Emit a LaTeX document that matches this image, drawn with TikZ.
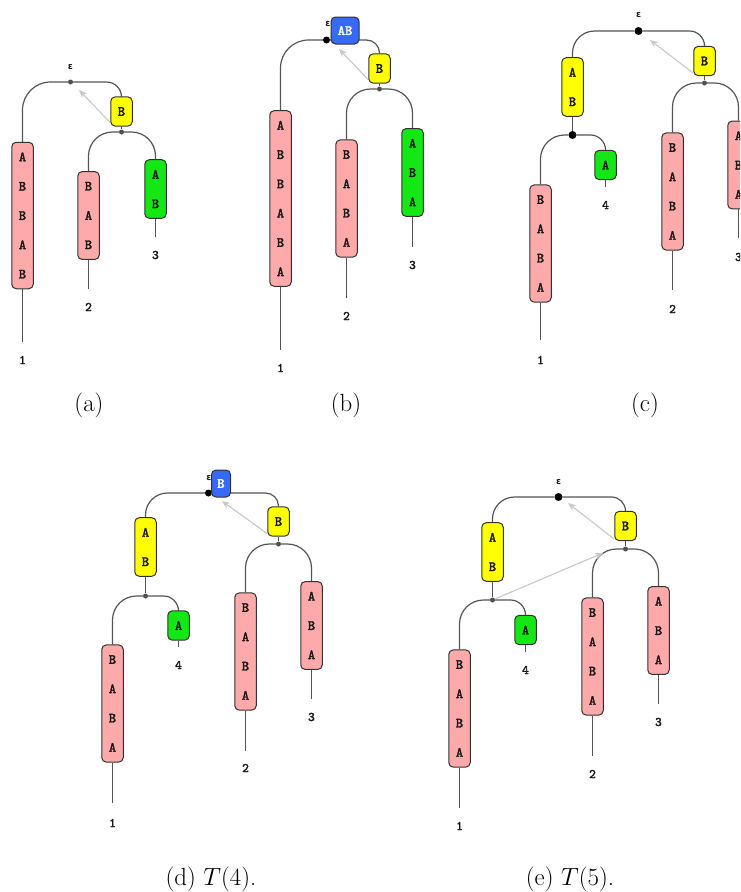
\documentclass[tikz,border=0pt]{standalone}
\usepackage{fontspec}
\newfontfamily\treefont{lmmono10-regular.otf}[FakeBold=2.2]
\newfontfamily\epsfont{DejaVu Sans}
\usetikzlibrary{arrows.meta,backgrounds}
\definecolor{pinkc}{RGB}{255,170,170}
\definecolor{greenc}{RGB}{20,232,20}
\definecolor{yellowc}{RGB}{255,255,0}
\definecolor{bluec}{RGB}{55,105,250}
\definecolor{boxline}{RGB}{50,50,50}
\definecolor{edgec}{RGB}{85,85,85}
\definecolor{dotc}{RGB}{80,80,80}
\definecolor{linkc}{RGB}{200,200,200}
\definecolor{letc}{RGB}{25,25,25}
\begin{document}
\begin{tikzpicture}[x=1pt,y=-1pt,
  tbox/.style={draw=boxline,line width=1pt,rounded corners=4.5pt,inner sep=0pt,minimum width=21.5pt,align=center,text=letc,font=\treefont\fontsize{14}{29.3}\selectfont},
  pinkb/.style={tbox,fill=pinkc,minimum height=29.3pt*#1},
  greenb/.style={tbox,fill=greenc,minimum height=29.3pt*#1},
  yellowb/.style={tbox,fill=yellowc,minimum height=29.3pt*#1},
  blueb/.style={tbox,fill=bluec,text=white,minimum height=27pt},
  jdot/.style={circle,fill=dotc,inner sep=0pt,minimum size=5pt},
  bdot/.style={circle,fill=black,inner sep=0pt,minimum size=8pt},
  epsl/.style={font=\epsfont\bfseries\fontsize{9}{11}\selectfont,inner sep=0pt,text=letc},
  lbl/.style={font=\treefont\fontsize{13}{15}\selectfont,inner sep=0pt,text=letc},
  edge/.style={draw=edgec,line width=1.2pt,rounded corners=#1},
  edge/.default=24pt,
  tail/.style={draw=edgec,line width=1.1pt},
  slink/.style={draw=linkc,line width=1.1pt,-{Stealth[length=8pt,width=6.5pt]}},
  captxt/.style={font=\Huge,inner sep=0pt}
]
\useasboundingbox (0,0) rectangle (740,892);
\begin{scope}
\clip (0,0) rectangle (740,892);
% ---------- (a)
\node[epsl] (a_eps) at (70.5,67) {ε};
\node[jdot] (a_r) at (70.5,82) {};
\node[pinkb=5] (a1) at (22.5,215.5) {A\\B\\B\\A\\B};
\coordinate (a1_t) at (22.5,342);
\node[lbl] (a_l1) at (22.5,360) {1};
\node[yellowb=1] (aY) at (121.5,111.5) {B};
\node[jdot] (a_j) at (121.5,132) {};
\node[pinkb=3] (a2) at (88.5,215.5) {B\\A\\B};
\coordinate (a2_t) at (88.5,289);
\node[lbl] (a_l2) at (88.5,307) {2};
\node[greenb=2] (a3) at (155.5,189) {A\\B};
\coordinate (a3_t) at (155.5,237);
\node[lbl] (a_l3) at (155.5,255) {3};
\coordinate (a_s) at (79,90);
% ---------- (b)
\node[epsl] (b_eps) at (328,24) {ε};
\node[bdot,minimum size=7pt] (b_r) at (326.5,40) {};
\node[blueb,minimum width=28pt] (bBl) at (345,30.5) {AB};
\node[pinkb=6] (b1) at (280.5,198.5) {A\\B\\B\\A\\B\\A};
\coordinate (b1_t) at (280.5,350);
\node[lbl] (b_l1) at (280.5,368) {1};
\node[yellowb=1] (bY) at (379.5,68.5) {B};
\node[jdot] (b_j) at (379.5,89) {};
\node[pinkb=4] (b2) at (346.5,198.5) {B\\A\\B\\A};
\coordinate (b2_t) at (346.5,298);
\node[lbl] (b_l2) at (346.5,316) {2};
\node[greenb=3] (b3) at (412.5,172.5) {A\\B\\A};
\coordinate (b3_t) at (412.5,247);
\node[lbl] (b_l3) at (412.5,265) {3};
\coordinate (b_s) at (339,49);
% ---------- (c)
\node[epsl] (c_eps) at (638.5,15) {ε};
\node[bdot] (c_r) at (638.5,31) {};
\node[yellowb=2] (cAB) at (572.5,87) {A\\B};
\node[bdot] (c_j) at (572.5,135) {};
\node[pinkb=4] (c1) at (540.5,243.5) {B\\A\\B\\A};
\coordinate (c1_t) at (540.5,340);
\node[lbl] (c_l1) at (540.5,360) {1};
\node[greenb=1] (c4) at (605.5,165) {A};
\coordinate (c4_t) at (605.5,187);
\node[lbl] (c_l4) at (605.5,205) {4};
\node[yellowb=1] (cB) at (704.5,61) {B};
\node[jdot] (c_j2) at (704.5,83) {};
\node[pinkb=4] (c2) at (672.5,191.5) {B\\A\\B\\A};
\coordinate (c2_t) at (672.5,290);
\node[lbl] (c_l2) at (672.5,309) {2};
\node[pinkb=3] (c3) at (738.5,165) {A\\B\\A};
\coordinate (c3_t) at (738.5,238);
\node[lbl] (c_l3) at (738.5,257) {3};
\coordinate (c_s) at (650,40);
% ---------- (d)
\node[epsl] (d_eps) at (209,478) {ε};
\node[bdot,minimum size=7pt] (d_r) at (208.5,493) {};
\node[blueb,minimum width=19pt] (dBl) at (221,483.5) {B};
\node[yellowb=2] (dAB) at (145.5,547) {A\\B};
\node[jdot] (d_j) at (145.5,596) {};
\node[pinkb=4] (d1) at (112.5,703.5) {B\\A\\B\\A};
\coordinate (d1_t) at (112.5,803);
\node[lbl] (d_l1) at (112.5,823) {1};
\node[greenb=1] (d4) at (178.5,625.5) {A};
\coordinate (d4_t) at (178.5,647);
\node[lbl] (d_l4) at (178.5,665) {4};
\node[yellowb=1] (dB) at (278.5,521.5) {B};
\node[jdot] (d_j2) at (278.5,544) {};
\node[pinkb=4] (d2) at (245.5,651.5) {B\\A\\B\\A};
\coordinate (d2_t) at (245.5,751);
\node[lbl] (d_l2) at (245.5,768) {2};
\node[pinkb=3] (d3) at (311.5,625.5) {A\\B\\A};
\coordinate (d3_t) at (311.5,699);
\node[lbl] (d_l3) at (311.5,717) {3};
\coordinate (d_s) at (222,501);
% ---------- (e)
\node[epsl] (e_eps) at (558.5,482) {ε};
\node[bdot] (e_r) at (558.5,497) {};
\node[yellowb=2] (eAB) at (492.5,552) {A\\B};
\node[jdot] (e_j) at (492.5,600) {};
\node[pinkb=4] (e1) at (459.5,708.5) {B\\A\\B\\A};
\coordinate (e1_t) at (459.5,808);
\node[lbl] (e_l1) at (459.5,826) {1};
\node[greenb=1] (e4) at (525.5,630) {A};
\coordinate (e4_t) at (525.5,652);
\node[lbl] (e_l4) at (525.5,670) {4};
\node[yellowb=1] (eB) at (625.5,526) {B};
\node[jdot] (e_j2) at (625.5,549) {};
\node[pinkb=4] (e2) at (592.5,656.5) {B\\A\\B\\A};
\coordinate (e2_t) at (592.5,756);
\node[lbl] (e_l2) at (592.5,774) {2};
\node[pinkb=3] (e3) at (658.5,630.5) {A\\B\\A};
\coordinate (e3_t) at (658.5,704);
\node[lbl] (e_l3) at (658.5,722) {3};
\coordinate (e_s) at (568,503);
\coordinate (e_s2) at (603,553);
% ---------- captions
\node[captxt] (cap_a) at (89,405) {(a)};
\node[captxt] (cap_b) at (346,405) {(b)};
\node[captxt] (cap_c) at (645,405) {(c)};
\node[captxt] (cap_d) at (211,879) {(d) $T(4)$.};
\node[captxt] (cap_e) at (570,879) {(e) $T(5)$.};
\end{scope}
\begin{pgfonlayer}{background}
% (a)
\draw[edge=28pt] (a_r) -| (a1.north);
\draw[edge=15pt] (a_r) -| (aY.north);
\draw[edge] (aY) -- (a_j);
\draw[edge] (a_j) -| (a2.north);
\draw[edge] (a_j) -| (a3.north);
\draw[tail] (a1) -- (a1_t);
\draw[tail] (a2) -- (a2_t);
\draw[tail] (a3) -- (a3_t);
\draw[slink] ([yshift=4pt]aY.south west) -- (a_s);
% (b)
\draw[edge=28pt] (b_r) -| (b1.north);
\draw[edge=13pt] (b_r) -| (bY.north);
\draw[edge] (bY) -- (b_j);
\draw[edge] (b_j) -| (b2.north);
\draw[edge] (b_j) -| (b3.north);
\draw[tail] (b1) -- (b1_t);
\draw[tail] (b2) -- (b2_t);
\draw[tail] (b3) -- (b3_t);
\draw[slink] ([yshift=4pt]bY.south west) -- (b_s);
% (c)
\draw[edge=22pt] (c_r) -| (cAB.north);
\draw[edge=15pt] (c_r) -| (cB.north);
\draw[edge] (cAB) -- (c_j);
\draw[edge] (c_j) -| (c1.north);
\draw[edge=15pt] (c_j) -| (c4.north);
\draw[tail] (c1) -- (c1_t);
\draw[tail] (c4) -- (c4_t);
\draw[edge] (cB) -- (c_j2);
\draw[edge] (c_j2) -| (c2.north);
\draw[edge] (c_j2) -| (c3.north);
\draw[tail] (c2) -- (c2_t);
\draw[tail] (c3) -- (c3_t);
\draw[slink] ([yshift=3pt]cB.south west) -- (c_s);
% (d)
\draw[edge=22pt] (d_r) -| (dAB.north);
\draw[edge=13pt] (d_r) -| (dB.north);
\draw[edge] (dAB) -- (d_j);
\draw[edge] (d_j) -| (d1.north);
\draw[edge=15pt] (d_j) -| (d4.north);
\draw[tail] (d1) -- (d1_t);
\draw[tail] (d4) -- (d4_t);
\draw[edge] (dB) -- (d_j2);
\draw[edge] (d_j2) -| (d2.north);
\draw[edge] (d_j2) -| (d3.north);
\draw[tail] (d2) -- (d2_t);
\draw[tail] (d3) -- (d3_t);
\draw[slink] ([yshift=3pt]dB.south west) -- (d_s);
% (e)
\draw[edge=22pt] (e_r) -| (eAB.north);
\draw[edge=14pt] (e_r) -| (eB.north);
\draw[edge] (eAB) -- (e_j);
\draw[edge] (e_j) -| (e1.north);
\draw[edge=15pt] (e_j) -| (e4.north);
\draw[tail] (e1) -- (e1_t);
\draw[tail] (e4) -- (e4_t);
\draw[edge] (eB) -- (e_j2);
\draw[edge] (e_j2) -| (e2.north);
\draw[edge] (e_j2) -| (e3.north);
\draw[tail] (e2) -- (e2_t);
\draw[tail] (e3) -- (e3_t);
\draw[slink] ([yshift=2pt]eB.south west) -- (e_s);
\draw[slink] (e_j) -- (e_s2);
\end{pgfonlayer}
\end{tikzpicture}
\end{document}
